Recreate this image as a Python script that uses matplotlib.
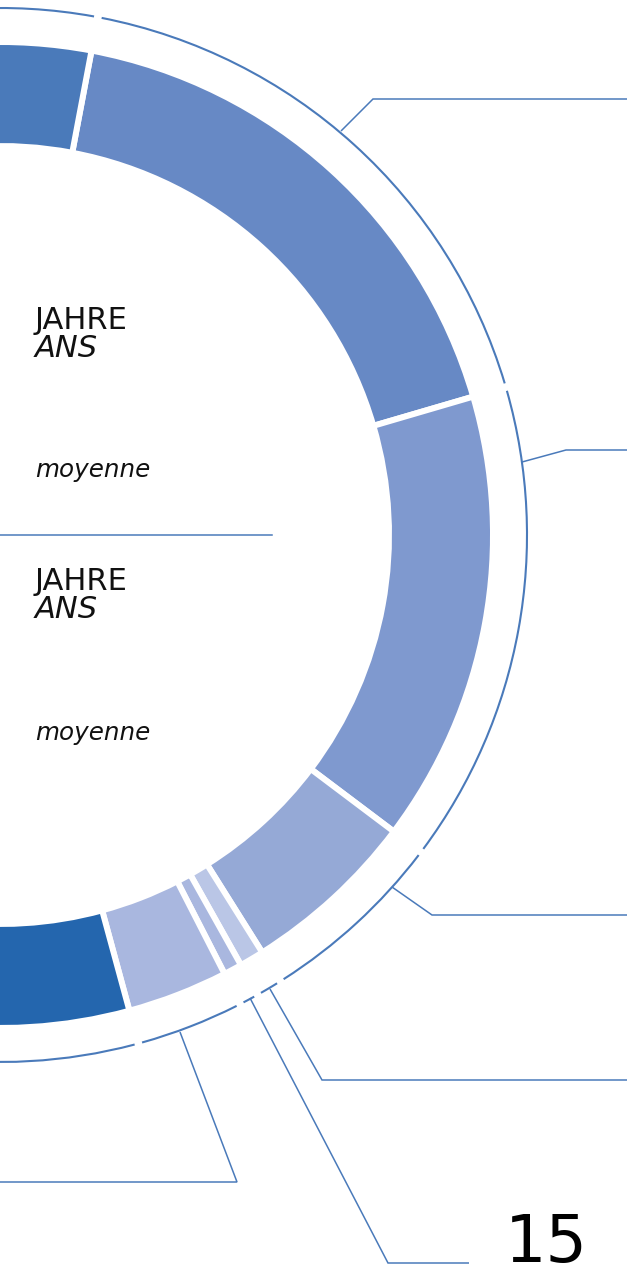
import matplotlib
matplotlib.use("Agg")
import matplotlib.pyplot as plt
from matplotlib.patches import Arc

# ---------------- data ----------------
# share of the full ring (percent); order: clockwise, starting at the top segment
segment_names = ["seg2", "seg3", "seg4", "seg5", "seg6", "seg7", "seg8", "seg1"]
segment_values = [17.5, 14.8, 5.8, 0.8, 0.6, 3.3, 26.0, 31.2]
segment_colors = ["#6789c5", "#7f99cf", "#95a9d6", "#bac6e6", "#a9b7df",
                  "#a9b7df", "#2466ae", "#4a7aba"]
label_top = ["JAHRE", "ANS", "moyenne"]
label_bottom = ["JAHRE", "ANS", "moyenne"]
page_number = "15"

# ---------------- layout ----------------
W, H = 627, 1266
LINE = "#4a7aba"


def Y(y):
    return H - y


fig = plt.figure(figsize=(W / 100, H / 100), dpi=100)
ax = fig.add_axes([0, 0, 1, 1])

cx, cy = 0, Y(535)
gap_lw = 4.3  # white separators (pt)
wedges, _ = ax.pie(segment_values, colors=segment_colors, startangle=79.3,
                   counterclock=False, radius=493, center=(cx, cy),
                   wedgeprops=dict(width=104, edgecolor="white",
                                   linewidth=gap_lw))

# thin outer ring made of arcs, one per segment
r_out = 527
g = 0.42
for w in wedges:
    ax.add_patch(Arc((cx, cy), 2 * r_out, 2 * r_out, theta1=w.theta1 + g,
                     theta2=w.theta2 - g, color=LINE, lw=1.5))

# leader lines (image coordinates)
leaders = [
    [(341, 131), (373, 99), (627, 99)],
    [(522, 462), (566, 450), (627, 450)],
    [(392, 887), (432, 915), (627, 915)],
    [(270, 989), (322, 1080), (627, 1080)],
    [(250, 998), (388, 1263), (469, 1263)],
    [(180, 1032), (237, 1182), (0, 1182)],
]
for pts in leaders:
    ax.plot([p[0] for p in pts], [Y(p[1]) for p in pts], color=LINE, lw=1.1,
            solid_joinstyle="miter", solid_capstyle="butt")

# divider inside the ring
ax.plot([0, 272], [Y(535), Y(535)], color=LINE, lw=1.1)

fam = ["DejaVu Sans"]
TXT = "#111111"
for (t1, t2, t3), y0 in ((label_top, 0), (label_bottom, 261)):
    ax.text(35, Y(329 + y0), t1, fontsize=22, family=fam, color=TXT,
            va="baseline", ha="left")
    ax.text(35, Y(357 + y0), t2, fontsize=22, family=fam, style="italic",
            color=TXT, va="baseline", ha="left")
    ax.text(35, Y(477 + y0 + (2 if y0 else 0)), t3, fontsize=17.7, family=fam,
            style="italic", color=TXT, va="baseline", ha="left")

ax.text(588, Y(1262), page_number, fontsize=47, family=fam, color="#000000",
        va="baseline", ha="right")

ax.set_xlim(0, W)
ax.set_ylim(0, H)
ax.set_aspect("equal")
ax.axis("off")

fig.savefig("out.png", dpi=100, facecolor="white")
